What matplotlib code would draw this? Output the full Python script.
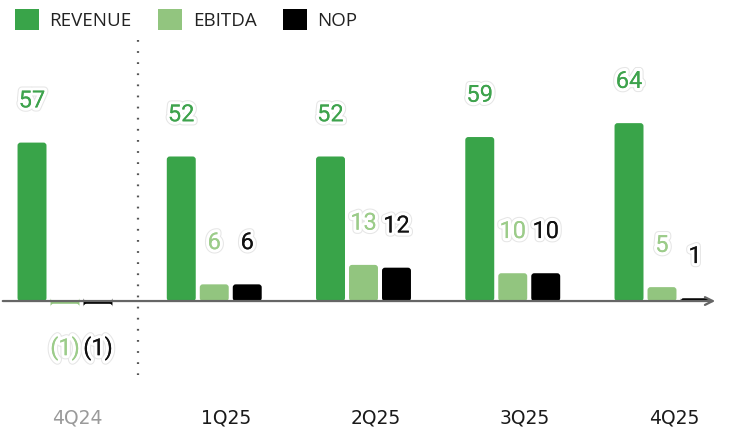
import matplotlib
matplotlib.use("Agg")
import matplotlib.pyplot as plt
import matplotlib.patheffects as pe
from matplotlib.patches import FancyBboxPatch, Patch

quarters = ["4Q24", "1Q25", "2Q25", "3Q25", "4Q25"]
revenue = [57, 52, 52, 59, 64]
ebitda = [-1, 6, 13, 10, 5]
nop = [-1, 6, 12, 10, 1]

GREEN = "#39a449"
LIGHT = "#92c57f"
BLACK = "#000000"

fig = plt.figure(figsize=(7.32, 4.30), dpi=100)
ax = fig.add_axes([0, 0, 1, 1])
ax.set_xlim(-0.4355, 4.469)
ax.set_ylim(-46.4, 108.3)
ax.axis("off")

# px -> data conversion used for rounding the bar corners
px_x = (4.469 + 0.4355) / 732
px_y = (108.3 + 46.4) / 430

width = 0.194
offset = 0.221
x = list(range(len(quarters)))

series = [
    (revenue, -offset, GREEN, "#3ea34d"),
    (ebitda, 0.0, LIGHT, "#9ccc8a"),
    (nop, offset, BLACK, "#111111"),
]

halo = [pe.withStroke(linewidth=6, foreground="#e6e6e6"),
        pe.withStroke(linewidth=4.5, foreground="white"),
        pe.Normal()]

for vals, dx, color, tcolor in series:
    bars = ax.bar([i + dx for i in x], vals, width=width, color=color)
    for rect, v in zip(bars, vals):
        rect.set_visible(False)
        bx, by = rect.get_x(), rect.get_y()
        bw, bh = rect.get_width(), rect.get_height()
        ax.add_patch(FancyBboxPatch(
            (bx, by), bw, bh,
            boxstyle=f"round,pad=0,rounding_size={3 * px_x}",
            mutation_aspect=px_y / px_x,
            fc=color, ec="none", zorder=2))
        cx = bx + bw / 2
        if v >= 0:
            ty, txt = v + 15, f"{v}"
        else:
            ty, txt = v - 16, f"({-v})"
        ax.text(cx, ty, txt, ha="center", va="center", fontsize=17,
                family="Roboto", color=tcolor, path_effects=halo, zorder=4)

# baseline with arrow head
ax.annotate("", xy=(4.375, 0), xytext=(-0.4355, 0),
            arrowprops=dict(arrowstyle="->", color="#666666", lw=1.6,
                            mutation_scale=14), zorder=3)

# separator between last year and this year
ax.plot([0.489, 0.489], [93.9, -26.5], color="#555555", lw=1.6,
        linestyle=(0, (0.8, 4.2)), zorder=1)

for i, q in enumerate(quarters):
    ax.text(i + 0.08, -42.1, q, ha="center", va="center", fontsize=13.5,
            family="DejaVu Sans", color="#9a9a9a" if i == 0 else "#1a1a1a")

handles = [Patch(facecolor=GREEN, label="REVENUE"),
           Patch(facecolor=LIGHT, label="EBITDA"),
           Patch(facecolor=BLACK, label="NOP")]
leg = ax.legend(handles=handles, loc="upper left", bbox_to_anchor=(0.005, 1.005),
                ncol=3, frameon=False, handlelength=1.3, handleheight=1.3,
                handletextpad=0.55, columnspacing=1.4, borderaxespad=0.2,
                prop={"family": "Open Sans", "size": 13.5})
for t in leg.get_texts():
    t.set_color("#222222")

fig.savefig("out.png", dpi=100)
